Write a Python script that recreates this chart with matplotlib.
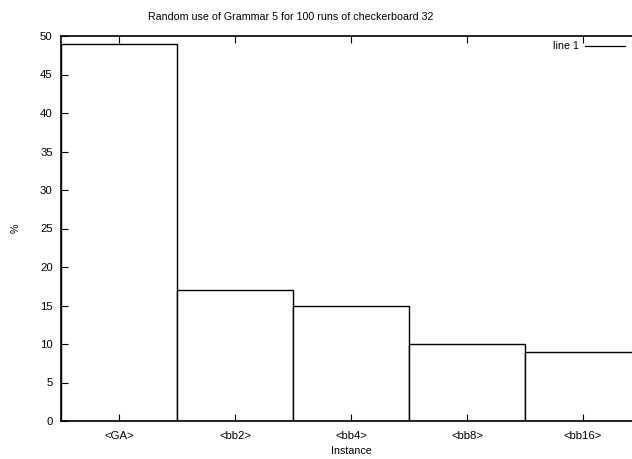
import matplotlib
matplotlib.use("Agg")
import matplotlib.pyplot as plt

categories = ["<GA>", "<bb2>", "<bb4>", "<bb8>", "<bb16>"]
values = [49, 17, 15, 10, 9]
yticks = [0, 5, 10, 15, 20, 25, 30, 35, 40, 45, 50]

plt.rcParams['font.family'] = ['Liberation Sans', 'DejaVu Sans']
fs = 7.7
fig = plt.figure(figsize=(6.32, 4.59), dpi=100)
ax = fig.add_axes([61/632, 1-421/459, 580/632, (421-36)/459])
x = list(range(len(categories)))
ax.bar(x, values, width=1.0, facecolor='white', edgecolor='black', linewidth=1.0, label='line 1')
ax.set_xlim(-0.5, 4.5)
ax.set_ylim(0, 50)
ax.set_yticks(yticks)
ax.set_xticks(x)
ax.set_xticklabels(categories)
ax.tick_params(direction='in', length=5, labelsize=fs + 0.5, top=True, right=True, width=0.8)
ax.tick_params(axis='x', pad=7)
ax.tick_params(axis='y', pad=6)
for s in ax.spines.values():
    s.set_linewidth(1.2)
ax.set_xlabel("Instance", fontsize=fs, labelpad=4)
ax.set_ylabel("%", fontsize=fs, labelpad=14)
fig.text(0.46, 1-17/459, "Random use of Grammar 5 for 100 runs of checkerboard 32", ha='center', va='center', fontsize=fs)
# legend
fig.text(579/632, 1-46/459, "line 1", ha='right', va='center', fontsize=fs)
fig.add_artist(plt.Line2D([585/632, 625/632], [1-46/459, 1-46/459], color='black', linewidth=0.9))
fig.savefig("out.png", dpi=100)
